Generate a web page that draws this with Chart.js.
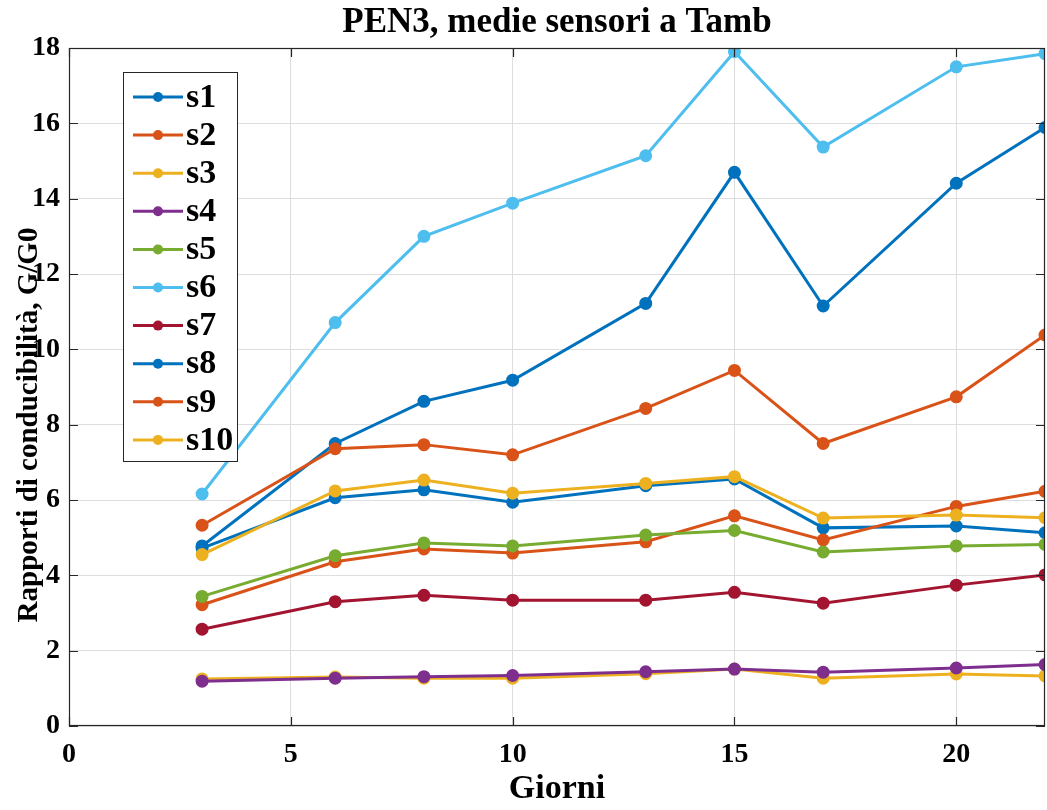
<!DOCTYPE html>
<html>
<head>
<meta charset="utf-8">
<script src="https://cdn.jsdelivr.net/npm/chart.js@4/dist/chart.umd.min.js"></script>
<style>
  html, body { margin: 0; padding: 0; background: #fff; }
  #wrap { width: 1047px; height: 810px; }
</style>
</head>
<body>
<div id="wrap"><canvas id="chart" width="1047" height="810"></canvas></div>
<script>
// giorni di misura
const giorni = [3, 6, 8, 10, 13, 15, 17, 20, 22];

// medie dei rapporti G/G0 per sensore
const s1 = [4.72, 6.06, 6.27, 5.94, 6.38, 6.56, 5.26, 5.31, 5.13];
const s2 = [3.22, 4.36, 4.70, 4.59, 4.89, 5.58, 4.94, 5.83, 6.23];
const s3 = [1.25, 1.30, 1.27, 1.27, 1.39, 1.51, 1.27, 1.38, 1.33];
const s4 = [1.19, 1.27, 1.31, 1.34, 1.44, 1.51, 1.43, 1.54, 1.63];
const s5 = [3.44, 4.52, 4.86, 4.78, 5.07, 5.19, 4.62, 4.78, 4.82];
const s6 = [6.16, 10.71, 13.00, 13.88, 15.14, 17.90, 15.37, 17.50, 17.85];
const s7 = [2.57, 3.30, 3.47, 3.34, 3.34, 3.55, 3.26, 3.74, 4.01];
const s8 = [4.78, 7.50, 8.62, 9.18, 11.22, 14.70, 11.15, 14.41, 15.89];
const s9 = [5.33, 7.36, 7.47, 7.20, 8.43, 9.44, 7.50, 8.74, 10.38];
const s10 = [4.55, 6.24, 6.53, 6.18, 6.44, 6.62, 5.52, 5.60, 5.53];

const nomiSensori = ['s1', 's2', 's3', 's4', 's5', 's6', 's7', 's8', 's9', 's10'];
const serie = [s1, s2, s3, s4, s5, s6, s7, s8, s9, s10];
const colori = ['#0072BD', '#D95319', '#EDB120', '#7E2F8E', '#77AC30', '#4DBEEE', '#A2142F', '#0072BD', '#D95319', '#EDB120'];

const xTicks = [0, 5, 10, 15, 20];
const yTicks = [0, 2, 4, 6, 8, 10, 12, 14, 16, 18];

const titolo = 'PEN3, medie sensori a Tamb';
const titoloX = 'Giorni';
const titoloY = 'Rapporti di conducibilità, G/G0';

const FONT = '"Liberation Serif", "Times New Roman", serif';
const INK = '#262626';

const datasets = serie.map((valori, i) => ({
    label: nomiSensori[i],
    data: giorni.map((g, k) => ({ x: g, y: valori[k] })),
    borderColor: colori[i],
    backgroundColor: colori[i],
    borderWidth: 3,
    pointRadius: 5,
    pointHoverRadius: 5,
    pointStyle: 'circle',
    tension: 0,
    order: serie.length - i // come MATLAB: l'ultima serie sopra
}));

// titoli, riquadro, tacche interne e legenda disegnati a mano
const decorazioni = {
    id: 'decorazioni',
    afterDraw(chart) {
        const ctx = chart.ctx;
        const a = chart.chartArea;
        const sx = chart.scales.x;
        const sy = chart.scales.y;
        ctx.save();

        // riquadro
        ctx.strokeStyle = INK;
        ctx.lineWidth = 1.2;
        ctx.strokeRect(a.left + 0.5, a.top + 0.5, a.right - a.left - 1, a.bottom - a.top - 1);

        // tacche interne
        const tl = 9;
        ctx.beginPath();
        xTicks.forEach(v => {
            const px = Math.round(sx.getPixelForValue(v)) + 0.5;
            ctx.moveTo(px, a.bottom); ctx.lineTo(px, a.bottom - tl);
            ctx.moveTo(px, a.top); ctx.lineTo(px, a.top + tl);
        });
        yTicks.forEach(v => {
            const py = Math.round(sy.getPixelForValue(v)) + 0.5;
            ctx.moveTo(a.left, py); ctx.lineTo(a.left + tl, py);
            ctx.moveTo(a.right, py); ctx.lineTo(a.right - tl, py);
        });
        ctx.stroke();

        ctx.fillStyle = '#000';
        ctx.textAlign = 'center';
        ctx.textBaseline = 'middle';

        // titolo
        ctx.font = 'bold 35px ' + FONT;
        ctx.fillText(titolo, (a.left + a.right) / 2, 23);

        // titolo asse x
        ctx.font = 'bold 34px ' + FONT;
        ctx.fillText(titoloX, (a.left + a.right) / 2, 789);

        // titolo asse y
        ctx.save();
        ctx.font = 'bold 29px ' + FONT;
        ctx.translate(30, 425);
        ctx.rotate(-Math.PI / 2);
        ctx.fillText(titoloY, 0, 0);
        ctx.restore();

        // legenda
        const lx = 123, ly = 72, lw = 114, lh = 389;
        ctx.fillStyle = '#fff';
        ctx.fillRect(lx, ly, lw, lh);
        ctx.strokeStyle = INK;
        ctx.lineWidth = 1;
        ctx.strokeRect(lx + 0.5, ly + 0.5, lw, lh);
        const passo = 38.1;
        ctx.font = 'bold 34px ' + FONT;
        ctx.textAlign = 'left';
        nomiSensori.forEach((nome, i) => {
            const y = ly + 25 + i * passo;
            ctx.strokeStyle = colori[i];
            ctx.lineWidth = 3;
            ctx.beginPath();
            ctx.moveTo(lx + 10, y); ctx.lineTo(lx + 60, y);
            ctx.stroke();
            ctx.fillStyle = colori[i];
            ctx.beginPath();
            ctx.arc(lx + 35, y, 5, 0, Math.PI * 2);
            ctx.fill();
            ctx.fillStyle = '#000';
            ctx.fillText(nome, lx + 63, y + 1);
        });

        ctx.restore();
    }
};

const ctx = document.getElementById('chart').getContext('2d');
new Chart(ctx, {
    type: 'line',
    data: { datasets },
    options: {
        responsive: false,
        animation: false,
        layout: { autoPadding: false, padding: { top: 48, right: 2, left: 0, bottom: 0 } },
        plugins: {
            legend: { display: false },
            title: { display: false },
            tooltip: { enabled: false }
        },
        scales: {
            x: {
                type: 'linear',
                min: 0,
                max: 22,
                afterBuildTicks: scale => { scale.ticks = xTicks.map(v => ({ value: v })); },
                afterFit: scale => { scale.height = 84; },
                ticks: {
                    color: '#000',
                    padding: 12,
                    maxRotation: 0,
                    font: { family: FONT, size: 28, weight: 'bold' }
                },
                grid: { color: '#dedede', lineWidth: 1, drawTicks: false },
                border: { display: false }
            },
            y: {
                type: 'linear',
                min: 0,
                max: 18,
                afterBuildTicks: scale => { scale.ticks = yTicks.map(v => ({ value: v })); },
                afterFit: scale => { scale.width = 69; },
                ticks: {
                    color: '#000',
                    padding: 9,
                    font: { family: FONT, size: 28, weight: 'bold' }
                },
                grid: { color: '#dedede', lineWidth: 1, drawTicks: false },
                border: { display: false }
            }
        }
    },
    plugins: [decorazioni]
});
</script>
</body>
</html>
